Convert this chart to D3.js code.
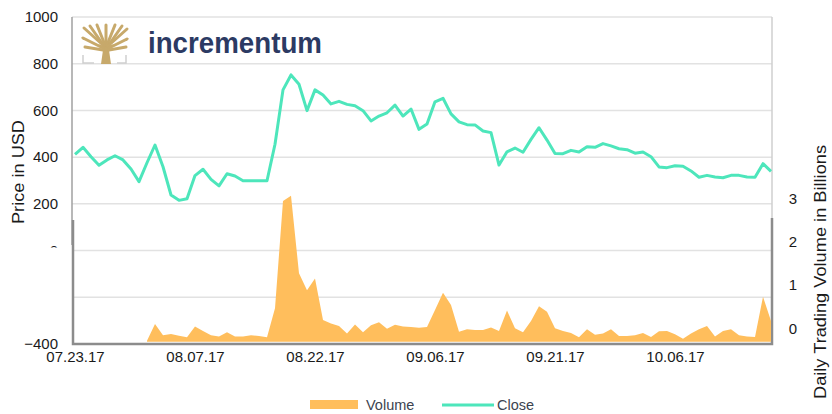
<!DOCTYPE html>
<html>
<head>
<meta charset="utf-8">
<script src="https://cdn.jsdelivr.net/npm/d3@7"></script>
<style>
  body { margin: 0; background: #fff; }
  svg { display: block; font-family: "Liberation Sans", Arial, sans-serif; }
</style>
</head>
<body>
<svg id="chart" width="832" height="414"></svg>
<script>
//Daily closing price in USD, starting 07.23.17
var closePrices = [412, 442, 402, 365, 388, 406, 388, 349, 295, 376,
  452, 359, 238, 215, 222, 321, 348, 305, 277, 329,
  319, 299, 299, 299, 299, 455, 688, 752, 712, 599,
  688, 666, 628, 639, 626, 620, 599, 555, 576, 590,
  623, 576, 606, 519, 542, 637, 652, 585, 551, 539,
  538, 512, 505, 366, 423, 439, 421, 476, 526, 473,
  416, 415, 429, 422, 445, 442, 458, 448, 436, 432,
  417, 422, 402, 358, 355, 363, 361, 341, 314, 322,
  315, 312, 322, 322, 315, 314, 372, 339];

//Daily trading volume in billions (no trading before 08.01.17)
var volumes = [null, null, null, null, null, null, null, null, null, 0.02,
  0.41, 0.15, 0.18, 0.14, 0.10, 0.35, 0.25, 0.15, 0.12, 0.22,
  0.12, 0.12, 0.15, 0.13, 0.10, 0.77, 3.25, 3.37, 1.58, 1.19,
  1.46, 0.50, 0.42, 0.36, 0.19, 0.40, 0.22, 0.38, 0.45, 0.30,
  0.39, 0.35, 0.34, 0.32, 0.34, 0.73, 1.13, 0.85, 0.23, 0.29,
  0.27, 0.27, 0.33, 0.25, 0.72, 0.31, 0.22, 0.48, 0.82, 0.69,
  0.31, 0.25, 0.20, 0.10, 0.29, 0.16, 0.19, 0.29, 0.13, 0.13,
  0.15, 0.20, 0.11, 0.24, 0.25, 0.17, 0.07, 0.19, 0.29, 0.36,
  0.12, 0.25, 0.29, 0.15, 0.12, 0.11, 1.04, 0.48];

var priceTicks = [1000, 800, 600, 400, 200, 0, -200, -400];
var volumeTicks = [0, 1, 2, 3];
var dateTicks = ["2017-07-23", "2017-08-07", "2017-08-22", "2017-09-06", "2017-09-21", "2017-10-06"];
var seriesNames = ["Volume", "Close"];

var volumeColor = "#ffbe5c";
var closeColor = "#4de6bb";

var parseDate = d3.timeParse("%Y-%m-%d");
var startDate = parseDate("2017-07-23");

var data = closePrices.map(function (p, i) {
  return { date: d3.timeDay.offset(startDate, i), close: p, volume: volumes[i] };
});

var svg = d3.select("svg#chart");

var plotLeft = 72, plotRight = 772, plotTop = 17, plotBottom = 344;

//Scales
var x = d3.scaleTime()
  .domain([startDate, d3.timeDay.offset(startDate, 87)])
  .range([75, 771]);

var yPrice = d3.scaleLinear()
  .domain([-400, 1000])
  .range([plotBottom, plotTop]);

var yVolume = d3.scaleLinear()
  .domain([0, 3])
  .range([341.7, 211.8]);

//Grid lines of the price axis
svg.append("g")
  .selectAll("line")
  .data(priceTicks)
  .enter().append("line")
    .attr("x1", plotLeft)
    .attr("x2", plotRight)
    .attr("y1", function (d) { return yPrice(d); })
    .attr("y2", function (d) { return yPrice(d); })
    .attr("stroke", "#e2e2e2")
    .attr("stroke-width", 1.5);

//Pane borders
svg.append("line")
  .attr("x1", plotLeft).attr("x2", plotLeft)
  .attr("y1", plotTop).attr("y2", 245)
  .attr("stroke", "#a0a0a0").attr("stroke-width", 1.5);
svg.append("line")
  .attr("x1", plotRight).attr("x2", plotRight)
  .attr("y1", plotTop).attr("y2", 218)
  .attr("stroke", "#cfcfcf").attr("stroke-width", 1.5);
svg.append("path")
  .attr("d", "M" + (plotLeft + 1) + ",220V" + plotBottom + "H" + plotRight + "V218")
  .attr("fill", "none")
  .attr("stroke", "#8c8c8c")
  .attr("stroke-width", 2.5);

//Volume area
var area = d3.area()
  .defined(function (d) { return d.volume != null; })
  .x(function (d) { return x(d.date); })
  .y0(yVolume(0))
  .y1(function (d) { return yVolume(d.volume); });

svg.append("path")
  .datum(data)
  .attr("d", area)
  .attr("fill", volumeColor);

//Close price line
var line = d3.line()
  .x(function (d) { return x(d.date); })
  .y(function (d) { return yPrice(d.close); });

svg.append("path")
  .datum(data)
  .attr("d", line)
  .attr("fill", "none")
  .attr("stroke", closeColor)
  .attr("stroke-width", 3)
  .attr("stroke-linejoin", "round");

//Left axis (price)
var priceAxis = svg.append("g")
  .attr("transform", "translate(58,0)")
  .call(d3.axisLeft(yPrice).tickValues(priceTicks).tickSize(0).tickPadding(0).tickFormat(d3.format("d")));
priceAxis.select(".domain").remove();
priceAxis.selectAll("text")
  .attr("font-size", 15)
  .attr("font-family", "Liberation Sans, Arial, sans-serif")
  .attr("fill", "#1a1a1a");

//The lower pane hides most of the 0 and -200 labels
svg.append("rect")
  .attr("x", 20).attr("y", 247.5)
  .attr("width", 50).attr("height", 89.5)
  .attr("fill", "#fff");

svg.append("text")
  .attr("transform", "translate(24,172) rotate(-90)")
  .attr("text-anchor", "middle")
  .attr("font-size", 16.5)
  .attr("textLength", 104)
  .attr("lengthAdjust", "spacingAndGlyphs")
  .attr("fill", "#1a1a1a")
  .text("Price in USD");

//Right axis (volume)
var volumeAxis = svg.append("g")
  .attr("transform", "translate(793,0)")
  .call(d3.axisRight(yVolume).tickValues(volumeTicks).tickSize(0).tickPadding(0).tickFormat(d3.format("d")));
volumeAxis.select(".domain").remove();
volumeAxis.selectAll("text")
  .attr("text-anchor", "middle")
  .attr("dy", "-0.58em")
  .attr("font-size", 15)
  .attr("font-family", "Liberation Sans, Arial, sans-serif")
  .attr("fill", "#1a1a1a");

svg.append("text")
  .attr("transform", "translate(826,272) rotate(-90)")
  .attr("text-anchor", "middle")
  .attr("font-size", 16.5)
  .attr("textLength", 254)
  .attr("lengthAdjust", "spacingAndGlyphs")
  .attr("fill", "#1a1a1a")
  .text("Daily Trading Volume in Billions");

//Bottom axis (dates)
var dateAxis = svg.append("g")
  .attr("transform", "translate(0,351)")
  .call(d3.axisBottom(x).tickValues(dateTicks.map(parseDate)).tickSize(0).tickPadding(0).tickFormat(d3.timeFormat("%m.%d.%y")));
dateAxis.select(".domain").remove();
dateAxis.selectAll("text")
  .attr("font-size", 15)
  .attr("font-family", "Liberation Sans, Arial, sans-serif")
  .attr("fill", "#1a1a1a");

//Logo
var logo = svg.append("g");
var gold = "#c7a96b";
logo.append("path")
  .attr("d", "M101,64 L103,50 L98,44 L104,46 L106,40 L108,46 L114,44 L109,50 L111,64 Z")
  .attr("fill", gold);
var branches = [
  [104, 46, 84, 28], [104, 46, 90, 26], [105, 45, 97, 25], [106, 44, 106, 25],
  [107, 45, 115, 25], [108, 46, 122, 26], [108, 46, 127, 29],
  [103, 48, 83, 38], [109, 48, 127, 39], [103, 50, 85, 47], [109, 50, 126, 47]
];
logo.selectAll("line.branch")
  .data(branches)
  .enter().append("line")
    .attr("class", "branch")
    .attr("x1", function (d) { return d[0]; })
    .attr("y1", function (d) { return d[1]; })
    .attr("x2", function (d) { return d[2]; })
    .attr("y2", function (d) { return d[3]; })
    .attr("stroke", gold)
    .attr("stroke-width", 3)
    .attr("stroke-linecap", "round");
logo.append("path")
  .attr("d", "M83,55V63H94 M126,55V63H117")
  .attr("fill", "none")
  .attr("stroke", "#cfcfcf")
  .attr("stroke-width", 1.5);
logo.append("text")
  .attr("x", 148)
  .attr("y", 53)
  .attr("font-size", 29)
  .attr("font-weight", "bold")
  .attr("fill", "#2c3a63")
  .attr("textLength", 174)
  .attr("lengthAdjust", "spacingAndGlyphs")
  .text("incrementum");

//Legend
var legend = svg.append("g");
legend.append("rect")
  .attr("x", 310).attr("y", 400)
  .attr("width", 48).attr("height", 9)
  .attr("fill", volumeColor);
legend.append("line")
  .attr("x1", 442).attr("x2", 494)
  .attr("y1", 405).attr("y2", 405)
  .attr("stroke", closeColor)
  .attr("stroke-width", 3);
legend.selectAll("text")
  .data(seriesNames)
  .enter().append("text")
    .attr("x", function (d, i) { return i == 0 ? 366 : 497; })
    .attr("y", 410)
    .attr("font-size", 14.5)
    .attr("fill", "#3c4450")
    .text(function (d) { return d; });
</script>
</body>
</html>
